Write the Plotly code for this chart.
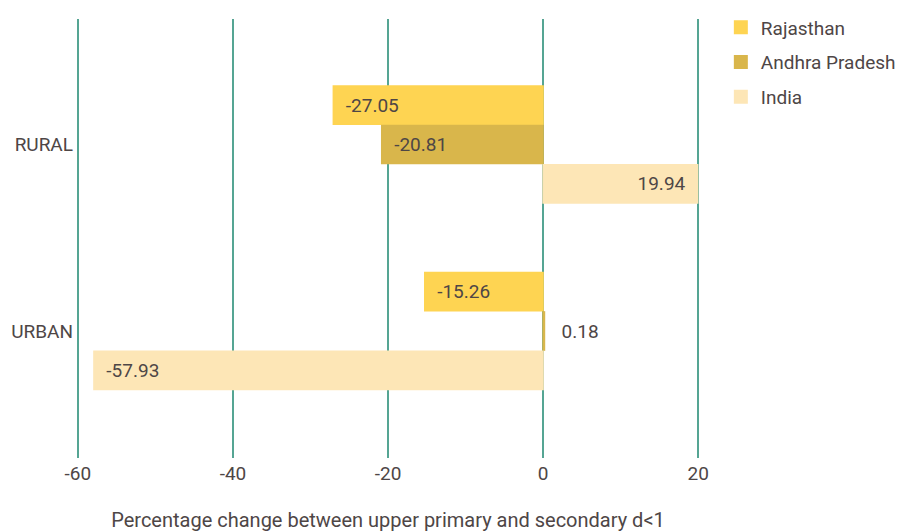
import plotly.graph_objects as go

categories = ["RURAL", "URBAN"]
series_names = ["Rajasthan", "Andhra Pradesh", "India"]
rajasthan = [-27.05, -15.26]
andhra_pradesh = [-20.81, 0.18]
india = [19.94, -57.93]
tick_vals = [-60, -40, -20, 0, 20]
tick_text = ["-60", "-40", "-20", "0", "20"]
axis_title = "Percentage change between upper primary and secondary d<1"

colors = ["#fed452", "#d9b64b", "#fde6b6"]
text_color = "#4e4646"
NB = "\u00a0"
FS = 19

fig = go.Figure()
for name, vals, col in zip(series_names, [rajasthan, andhra_pradesh, india], colors):
    texts = []
    positions = []
    for v in vals:
        if abs(v) < 5:
            texts.append(NB * 3 + f"{v:.2f}")
            positions.append("outside")
        else:
            texts.append(NB * 2 + f"{v:.2f}" + NB * 2)
            positions.append("inside")
    fig.add_trace(go.Bar(
        name=name, legendgroup=name, y=categories, x=vals, orientation="h",
        marker=dict(color=col, line=dict(width=1.5, color=col)),
        text=texts, textposition=positions, insidetextanchor="end",
        constraintext="none",
        textfont=dict(family="Roboto", size=FS, color=text_color),
        insidetextfont=dict(family="Roboto", size=FS, color=text_color),
        outsidetextfont=dict(family="Roboto", size=FS, color=text_color),
        cliponaxis=False, hoverinfo="skip",
    ))

# the page body has an 8px margin, so the figure is 8px smaller on each axis
fig.update_layout(
    width=901, height=524,
    margin=dict(l=66, r=207, t=11, b=74, autoexpand=False),
    paper_bgcolor="white", plot_bgcolor="white",
    barmode="group", bargap=0.367, bargroupgap=0.03,
    font=dict(family="Roboto", size=FS, color=text_color),
    showlegend=True,
    legend=dict(
        x=1.03, y=1.024, xanchor="left", yanchor="top",
        font=dict(family="Roboto", size=19, color=text_color),
        traceorder="grouped", tracegroupgap=7, itemsizing="constant",
        bgcolor="rgba(0,0,0,0)",
    ),
    xaxis=dict(
        range=[-60.5, 20.5], tickvals=tick_vals, ticktext=tick_text,
        showgrid=True, gridcolor="#55a593", gridwidth=2,
        zeroline=True, zerolinecolor="#55a593", zerolinewidth=2,
        showline=False, ticks="", ticklabelstandoff=2, automargin=False,
        tickfont=dict(family="Roboto", size=19, color=text_color),
        title=dict(text=axis_title, standoff=33,
                   font=dict(family="Roboto", size=20, color=text_color)),
        fixedrange=True,
    ),
    yaxis=dict(
        type="category", categoryorder="array", categoryarray=categories,
        range=[1.681, -0.673], showgrid=False, zeroline=False, showline=False,
        ticks="", ticklabelstandoff=0, automargin=False,
        tickfont=dict(family="Roboto", size=19, color=text_color),
        fixedrange=True,
    ),
)

fig.write_html("out.html")
